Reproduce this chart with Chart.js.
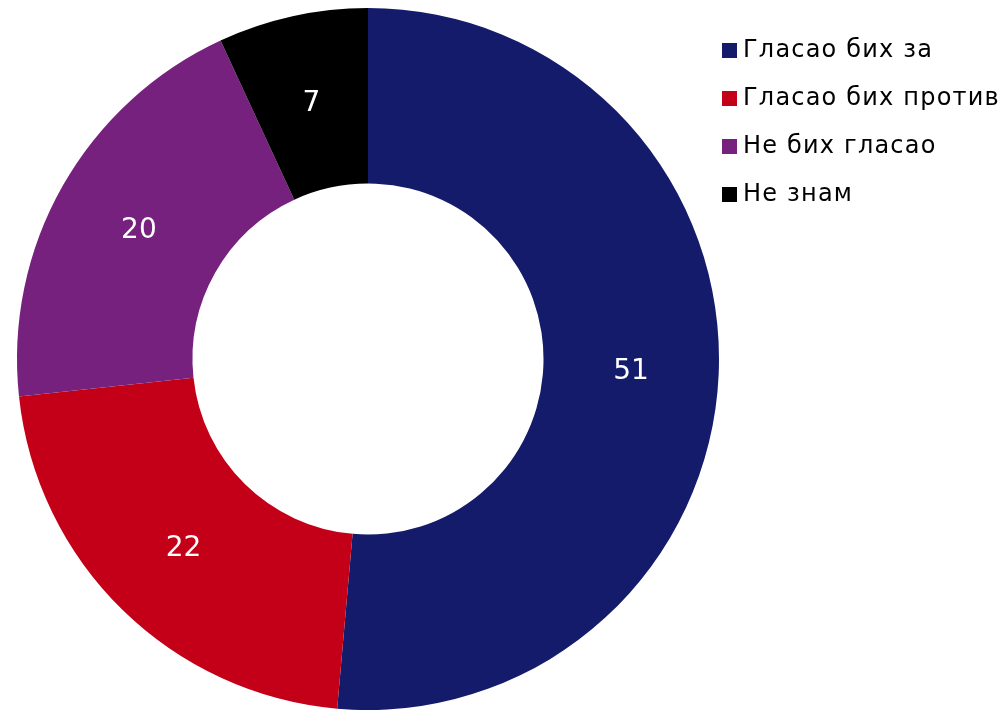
<!DOCTYPE html>
<html>
<head>
<meta charset="utf-8">
<style>
  html, body { margin: 0; padding: 0; background: #fff; overflow: hidden; }
  #wrap { width: 1006px; height: 710px; position: relative; }
</style>
</head>
<body>
<div id="wrap"><canvas id="myChart"></canvas></div>
<script src="https://cdn.jsdelivr.net/npm/chart.js@4/dist/chart.umd.min.js"></script>
<script>
    const labels = ["Гласао бих за", "Гласао бих против", "Не бих гласао", "Не знам"];
    // slice sizes as measured from the ring, shown rounded
    const values = [51.4, 21.9, 19.8, 6.9];
    const shown = [51, 22, 20, 7];
    const colors = ["#141b6a", "#c40018", "#77217f", "#000000"];

    const fontFamily = "'DejaVu Sans', Verdana, sans-serif";

    // white numbers in the middle of each ring segment
    const sliceLabels = {
        id: 'sliceLabels',
        afterDatasetsDraw(chart) {
            const ctx = chart.ctx;
            const meta = chart.getDatasetMeta(0);
            ctx.save();
            ctx.fillStyle = '#fff';
            ctx.font = '28px ' + fontFamily;
            ctx.textAlign = 'center';
            ctx.textBaseline = 'middle';
            meta.data.forEach((arc, i) => {
                const p = arc.tooltipPosition();
                ctx.fillText(shown[i], p.x, p.y + 1.5);
            });
            ctx.restore();
        }
    };

    // legend drawn at the right, like the original
    const sideLegend = {
        id: 'sideLegend',
        afterDraw(chart) {
            const ctx = chart.ctx;
            ctx.save();
            ctx.font = '24px ' + fontFamily;
            ctx.letterSpacing = '1.2px';
            ctx.textBaseline = 'middle';
            ctx.textAlign = 'left';
            labels.forEach((l, i) => {
                const y = 50 + i * 48;
                ctx.fillStyle = colors[i];
                ctx.fillRect(722, y - 7, 15, 15);
                ctx.fillStyle = '#000';
                ctx.fillText(l, 743, y + 1);
            });
            ctx.restore();
        }
    };

    var ctx = document.getElementById('myChart').getContext('2d');
    var myChart = new Chart(ctx, {
        type: 'doughnut',
        data: {
            labels: labels,
            datasets: [{
                data: values,
                backgroundColor: colors,
                borderWidth: 0
            }]
        },
        options: {
            responsive: true,
            maintainAspectRatio: false,
            animation: false,
            cutout: '50%',
            layout: { padding: { left: 16, right: 286, top: 8, bottom: 0 } },
            plugins: {
                legend: { display: false },
                tooltip: { enabled: false }
            }
        },
        plugins: [sliceLabels, sideLegend]
    });
</script>
</body>
</html>
